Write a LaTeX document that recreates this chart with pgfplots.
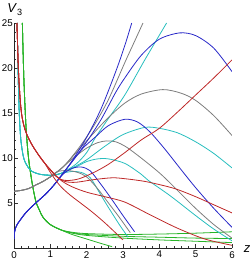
\documentclass[border=0pt]{standalone}
\usepackage{pgfplots}
\pgfplotsset{compat=1.18}
\usepackage{fontspec}
\setmainfont{Liberation Sans}
\definecolor{cB}{RGB}{40,40,200}
\definecolor{cG}{RGB}{125,125,125}
\definecolor{cC}{RGB}{40,190,190}
\definecolor{cR}{RGB}{190,40,40}
\definecolor{cN}{RGB}{40,180,40}
\begin{document}
\begin{tikzpicture}[x=1bp,y=1bp]
\path[use as bounding box] (-14,-17) rectangle (236,248);
\begin{axis}[at={(0,0)}, anchor=south west, scale only axis, width=218bp, height=225bp,
  xmin=0,xmax=6,ymin=0,ymax=25,
  axis lines=left, axis line style={-, black!85, line width=0.6bp},
  tick align=inside, major tick length=4bp, minor tick length=2.2bp,
  tick style={black!80, line width=0.5bp},
  xtick={0,1,2,3,4,5,6}, ytick={5,10,15,20,25},
  minor x tick num=4, minor y tick num=4,
  tick label style={font=\fontsize{9.8}{11}\selectfont},
  /pgf/number format/assume math mode=true,
  xticklabel style={anchor=north, inner sep=0pt, yshift=-3bp},
  yticklabel style={anchor=east, inner sep=0pt, xshift=-1bp},
  every axis plot/.append style={line width=0.8bp, smooth, tension=0.5, mark=none},
]
% ---- green ----
\addplot[cN] coordinates {(0.23,25)(0.27,19)(0.33,13.5)(0.4,10)(0.5,7.2)(0.6,5.2)(0.7,4.2)(0.8,3.4)(1.0,2.6)(1.3,2.0)(1.6,1.75)(2,1.6)(3,1.5)(4,1.55)(5,1.65)(6,1.8)};
\addplot[cN] coordinates {(0.23,25)(0.27,19)(0.33,13.5)(0.4,10)(0.5,7.2)(0.6,5.2)(0.7,4.2)(0.8,3.4)(1.0,2.6)(1.3,2.0)(1.6,1.7)(2,1.5)(3,1.3)(4,1.2)(5,1.1)(6,1.05)};
\addplot[cN] coordinates {(0.23,25)(0.27,19)(0.33,13.5)(0.4,10)(0.5,7.2)(0.6,5.2)(0.7,4.2)(0.8,3.4)(1.0,2.6)(1.3,2.0)(1.6,1.65)(2,1.4)(3,1.1)(4,0.9)(5,0.75)(6,0.6)};
\addplot[cN] coordinates {(0.23,25)(0.27,19)(0.33,13.5)(0.4,10)(0.5,7.2)(0.6,5.2)(0.7,4.2)(0.8,3.4)(1.0,2.6)(1.3,2.0)(1.6,1.5)(2,1.0)(2.4,0.5)(2.7,0.15)};
% ---- cyan ----
\addplot[cC] coordinates {(0.09,25)(0.11,20)(0.14,15.5)(0.17,13)(0.2,11.6)(0.25,10.3)(0.3,9.6)(0.4,8.9)(0.5,8.5)(0.7,8.2)(0.9,8.1)(1.1,8.1)(1.3,8.3)(1.7,9.3)(2.0,10.6)(2.23,12.2)(2.6,14.4)(3.05,17)(3.6,20.9)(4.2,25)};
\addplot[cC] coordinates {(0.09,25)(0.11,20)(0.14,15.5)(0.17,13)(0.2,11.6)(0.25,10.3)(0.3,9.6)(0.4,8.9)(0.5,8.5)(0.7,8.2)(0.9,8.1)(1.1,8.1)(1.3,8.3)(1.7,9.1)(2,9.8)(2.5,11.3)(3,12.6)(3.6,13.4)(4,13.3)(4.5,12.8)(5,11.8)(5.5,10.5)(6,8.9)};
\addplot[cC] coordinates {(0.09,25)(0.11,20)(0.14,15.5)(0.17,13)(0.2,11.6)(0.25,10.3)(0.3,9.6)(0.4,8.9)(0.5,8.5)(0.7,8.2)(0.9,8.1)(1.1,8.1)(1.3,8.3)(1.7,9.0)(2.0,9.6)(2.3,9.9)(2.6,9.9)(3.05,9.4)(3.5,8.2)(3.7,7.5)(4.3,5.8)(5,3.6)(5.5,2.1)(6,0.8)};
\addplot[cC] coordinates {(0.09,25)(0.11,20)(0.14,15.5)(0.17,13)(0.2,11.6)(0.25,10.3)(0.3,9.6)(0.4,8.9)(0.5,8.5)(0.7,8.2)(0.9,8.1)(1.1,8.1)(1.3,8.3)(1.6,8.5)(1.85,8.4)(2.1,7.8)(2.36,6.1)(2.6,4.5)(2.9,2.6)(3.14,1.2)};
% ---- gray ----
\addplot[cG] coordinates {(0,6.3)(0.2,6.4)(0.4,6.6)(0.6,7.0)(0.8,7.4)(1.0,7.9)(1.2,8.5)(1.4,9.2)(1.8,11.2)(2.2,13.6)(2.6,16.5)(3.05,20.6)(3.3,22.8)(3.55,25)};
\addplot[cG] coordinates {(0,6.3)(0.2,6.4)(0.4,6.6)(0.6,7.0)(0.8,7.4)(1.0,7.9)(1.2,8.5)(1.4,9.2)(1.8,11)(2.2,12.8)(2.6,14.5)(3.05,16.1)(3.5,17.1)(4.1,17.6)(4.6,17.2)(5,16.4)(5.5,14.7)(6,12.5)};
\addplot[cG] coordinates {(0,6.3)(0.2,6.4)(0.4,6.6)(0.6,7.0)(0.8,7.4)(1.0,7.9)(1.2,8.5)(1.4,9.2)(1.7,10.2)(2.0,11.1)(2.3,11.7)(2.55,11.9)(2.8,11.8)(3.1,11.2)(3.5,10)(3.9,8.7)(4.15,7.8)(4.6,6.0)(5,4.4)(5.5,2.6)(6,1.1)};
\addplot[cG] coordinates {(0,6.3)(0.2,6.4)(0.4,6.6)(0.6,7.0)(0.8,7.4)(1.0,7.9)(1.2,8.5)(1.5,8.6)(1.75,8.4)(2.0,7.9)(2.3,6.6)(2.6,5.0)(2.9,3.4)(3.2,1.7)};
% ---- blue ----
\addplot[cB] coordinates {(0,1.0)(0.01,1.6)(0.04,2.2)(0.1,2.7)(0.17,3.1)(0.3,3.8)(0.44,4.4)(0.6,5.0)(0.9,6.1)(1.1,7.0)(1.35,8.3)(1.6,9.7)(2.0,12.3)(2.4,15.5)(2.8,19.6)(3.05,22.5)(3.24,25)};
\addplot[cB] coordinates {(0,1.0)(0.01,1.6)(0.04,2.2)(0.1,2.7)(0.17,3.1)(0.3,3.8)(0.44,4.4)(0.6,5.0)(0.9,6.1)(1.1,7.0)(1.35,8.3)(1.6,9.6)(2.0,11.8)(2.4,14.3)(2.8,17.3)(3.05,18.9)(3.5,21.4)(4.0,23.2)(4.56,23.9)(5.0,23.6)(5.5,22.2)(6,19.6)};
\addplot[cB] coordinates {(0,1.0)(0.01,1.6)(0.04,2.2)(0.1,2.7)(0.17,3.1)(0.3,3.8)(0.44,4.4)(0.6,5.0)(0.9,6.1)(1.1,7.0)(1.35,8.3)(1.6,9.6)(1.9,11.1)(2.23,12.3)(2.6,13.6)(3.05,14.3)(3.4,14.0)(3.74,12.9)(4.15,11.0)(4.6,8.7)(5.0,6.7)(5.5,4.4)(6,2.3)};
\addplot[cB] coordinates {(0,1.0)(0.01,1.6)(0.04,2.2)(0.1,2.7)(0.17,3.1)(0.3,3.8)(0.44,4.4)(0.6,5.0)(0.9,6.1)(1.1,7.0)(1.35,8.2)(1.6,8.85)(1.85,9.0)(2.09,8.6)(2.35,7.3)(2.64,5.7)(3.0,3.6)(3.32,1.8)};
% ---- red ----
\addplot[cR] coordinates {(0.08,25)(0.12,20)(0.17,16.5)(0.22,14.6)(0.3,13.2)(0.4,12.2)(0.52,11.3)(0.7,10.2)(0.85,9.4)(1.0,8.7)(1.15,8.0)(1.3,7.6)(1.5,7.5)(1.8,7.7)(2.2,8.4)(2.6,9.3)(3.05,10.6)(3.5,12.0)(4.0,13.3)(4.5,15.1)(5,17.0)(5.5,18.9)(6,20.9)};
\addplot[cR] coordinates {(0.08,25)(0.12,20)(0.17,16.5)(0.22,14.6)(0.3,13.2)(0.4,12.2)(0.52,11.3)(0.7,10.2)(0.85,9.4)(1.0,8.7)(1.15,8.0)(1.4,7.4)(1.7,7.3)(2.2,7.6)(2.7,7.8)(3.05,7.7)(3.6,7.4)(4.15,6.9)(4.5,6.5)(5,5.7)(5.5,4.8)(6,3.9)};
\addplot[cR] coordinates {(0.08,25)(0.12,20)(0.17,16.5)(0.22,14.6)(0.3,13.2)(0.4,12.2)(0.52,11.3)(0.7,10.2)(0.85,9.4)(1.0,8.7)(1.3,7.5)(1.6,6.8)(2.0,6.2)(2.5,5.7)(3.05,5.1)(3.74,3.7)(4.5,2.2)(5.25,1.0)(6,0.3)};
\addplot[cR] coordinates {(0.08,25)(0.12,20)(0.17,16.5)(0.22,14.6)(0.3,13.2)(0.4,12.2)(0.52,11.3)(0.7,10.2)(0.85,9.4)(1.0,8.4)(1.25,7.0)(1.54,5.9)(2.09,4.2)(2.5,2.8)(3.0,0.9)};
\end{axis}
\node[inner sep=0pt] at (1,238.5) {\fontsize{13}{14}\selectfont\textit{V}\textsubscript{3}};
\node[inner sep=0pt] at (233,-1.5) {\fontsize{13}{14}\selectfont\textit{z}};
\end{tikzpicture}
\end{document}
